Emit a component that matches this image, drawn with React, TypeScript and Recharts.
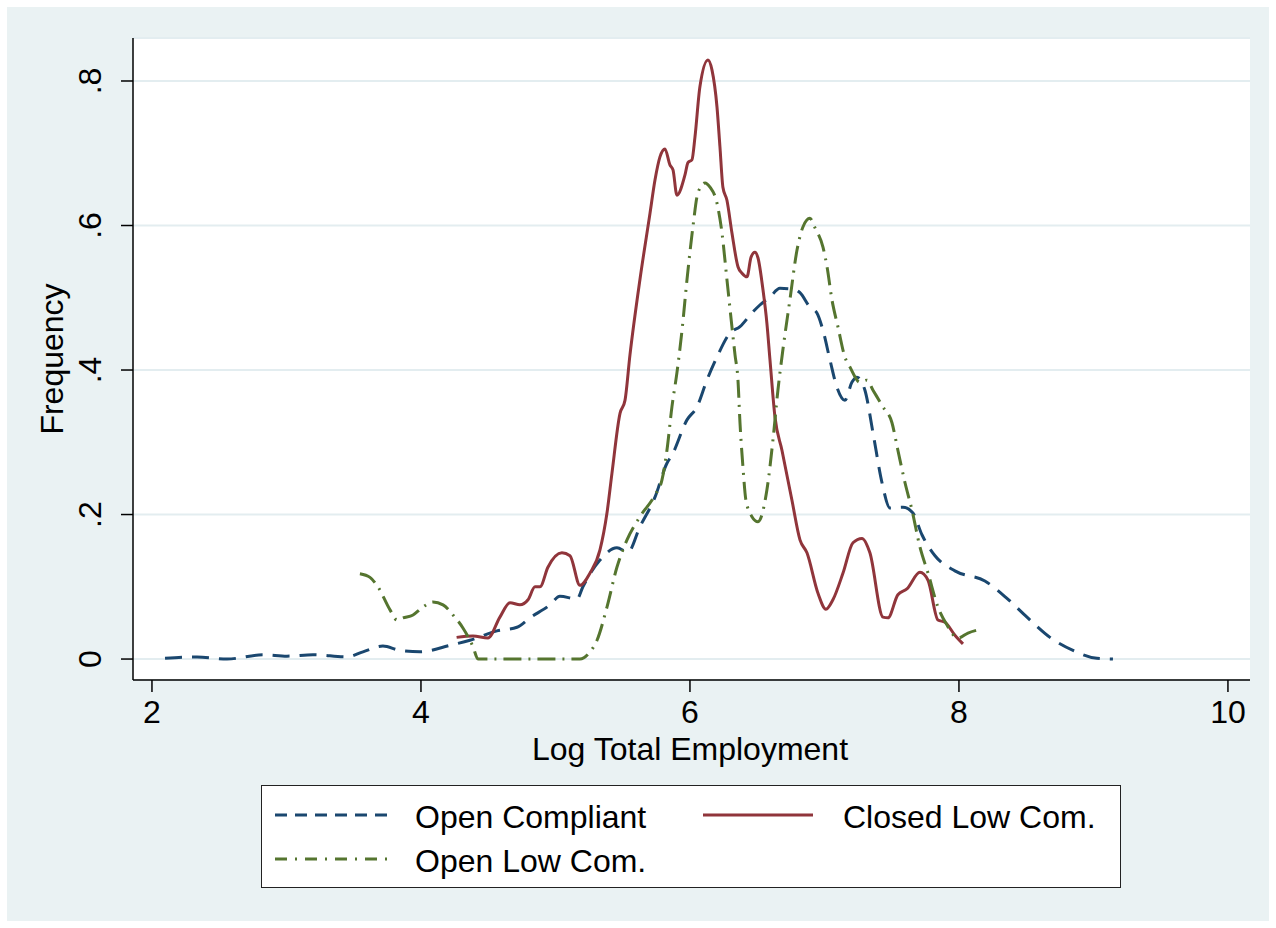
import { LineChart, Line, XAxis, YAxis, CartesianGrid } from "recharts";

// Kernel density estimates of log total employment
const openCompliantX = [
  2.097, 2.335, 2.558, 2.825, 3.004, 3.197, 3.45, 3.569, 3.717, 3.844, 3.993, 4.216, 4.364, 4.565, 4.714, 4.81,
  4.959, 5.033, 5.16, 5.204, 5.331, 5.457, 5.539, 5.628, 5.74, 5.829, 5.866, 5.978, 6.052, 6.126, 6.201, 6.297,
  6.372, 6.461, 6.52, 6.595, 6.669, 6.766, 6.818, 6.892, 6.944, 6.989, 7.041, 7.093, 7.152, 7.204, 7.242, 7.301,
  7.361, 7.428, 7.487, 7.584, 7.658, 7.725, 7.822, 7.97, 8.193, 8.357, 8.506, 8.677, 8.848, 9.026, 9.145,
];
const openCompliantY = [
  0.001, 0.003, 0.0, 0.006, 0.004, 0.006, 0.003, 0.01, 0.018, 0.012, 0.01, 0.019, 0.026, 0.039, 0.044, 0.057,
  0.075, 0.087, 0.083, 0.1, 0.137, 0.154, 0.148, 0.183, 0.224, 0.271, 0.282, 0.331, 0.349, 0.386, 0.418, 0.451,
  0.46, 0.479, 0.49, 0.501, 0.513, 0.512, 0.507, 0.487, 0.479, 0.455, 0.414, 0.376, 0.358, 0.383, 0.39, 0.372,
  0.313, 0.244, 0.209, 0.21, 0.202, 0.172, 0.143, 0.122, 0.108, 0.084, 0.058, 0.03, 0.012, 0.001, 0.0,
];

const closedLowX = [
  4.265, 4.387, 4.498, 4.587, 4.662, 4.736, 4.796, 4.848, 4.885, 4.944, 5.048, 5.108, 5.182, 5.257, 5.331, 5.383,
  5.42, 5.48, 5.517, 5.554, 5.628, 5.703, 5.74, 5.777, 5.814, 5.851, 5.874, 5.903, 5.963, 5.985, 6.015, 6.037,
  6.074, 6.134, 6.164, 6.201, 6.223, 6.245, 6.275, 6.312, 6.357, 6.387, 6.424, 6.454, 6.483, 6.506, 6.543, 6.572,
  6.595, 6.632, 6.684, 6.758, 6.818, 6.87, 6.952, 7.011, 7.063, 7.138, 7.212, 7.279, 7.338, 7.435, 7.472, 7.546,
  7.613, 7.71, 7.77, 7.844, 7.896, 7.97, 8.03,
];
const closedLowY = [
  0.03, 0.032, 0.029, 0.058, 0.078, 0.075, 0.082, 0.1, 0.1, 0.127, 0.147, 0.143, 0.102, 0.119, 0.151, 0.202,
  0.257, 0.34, 0.358, 0.421, 0.525, 0.617, 0.663, 0.695, 0.706, 0.684, 0.677, 0.642, 0.67, 0.687, 0.691, 0.722,
  0.792, 0.829, 0.815, 0.764, 0.709, 0.653, 0.635, 0.59, 0.543, 0.534, 0.529, 0.556, 0.563, 0.555, 0.511, 0.465,
  0.414, 0.335, 0.289, 0.22, 0.165, 0.147, 0.091, 0.069, 0.082, 0.119, 0.161, 0.167, 0.147, 0.058, 0.057, 0.089,
  0.097, 0.12, 0.109, 0.054, 0.051, 0.033, 0.021,
];

const openLowX = [
  3.546, 3.621, 3.68, 3.77, 3.822, 3.866, 3.941, 4.015, 4.089, 4.164, 4.238, 4.312, 4.387, 4.424, 4.587, 4.885,
  5.182, 5.257, 5.309, 5.383, 5.457, 5.532, 5.628, 5.74, 5.792, 5.829, 5.866, 5.903, 5.941, 5.978, 6.022, 6.059,
  6.112, 6.149, 6.201, 6.238, 6.275, 6.312, 6.335, 6.357, 6.372, 6.394, 6.416, 6.461, 6.506, 6.572, 6.617, 6.654,
  6.691, 6.743, 6.796, 6.84, 6.892, 6.929, 6.989, 7.019, 7.056, 7.1, 7.152, 7.19, 7.264, 7.316, 7.361, 7.435,
  7.502, 7.546, 7.599, 7.651, 7.71, 7.77, 7.844, 7.911, 7.993, 8.067, 8.134,
];
const openLowY = [
  0.118, 0.113, 0.1, 0.068, 0.054, 0.057, 0.061, 0.072, 0.079, 0.075, 0.061, 0.043, 0.017, 0.0, 0.0, 0.0,
  0.0, 0.01, 0.026, 0.072, 0.127, 0.165, 0.197, 0.227, 0.248, 0.289, 0.349, 0.396, 0.455, 0.525, 0.598, 0.645,
  0.659, 0.653, 0.631, 0.59, 0.525, 0.46, 0.421, 0.386, 0.327, 0.266, 0.22, 0.197, 0.19, 0.234, 0.303, 0.372,
  0.428, 0.497, 0.566, 0.598, 0.61, 0.597, 0.57, 0.543, 0.497, 0.46, 0.418, 0.404, 0.383, 0.386, 0.372, 0.349,
  0.327, 0.289, 0.244, 0.206, 0.155, 0.119, 0.072, 0.047, 0.029, 0.036, 0.04,
];

const xTicks = [2, 4, 6, 8, 10];
const yTicks = [0, 0.2, 0.4, 0.6, 0.8];

const toPoints = (xs: number[], ys: number[]) => xs.map((x, i) => ({ x, y: ys[i] }));

const FONT = "'Liberation Sans', Arial, sans-serif";
const FS = 32;
const BLUE = "#1a476f";
const RED = "#90353b";
const GREEN = "#55752f";

const fmtY = (v: number) => (v === 0 ? "0" : String(v).replace(/^0/, ""));

const YTick = (props: any) => {
  const { y, payload } = props;
  return (
    <text
      x={94}
      y={y}
      transform={`rotate(-90 94 ${y})`}
      textAnchor="middle"
      fontSize={FS}
      fontFamily={FONT}
      fill="#000"
    >
      {fmtY(payload.value)}
    </text>
  );
};

const XTick = (props: any) => {
  const { x, payload } = props;
  return (
    <text x={x} y={716} textAnchor="middle" fontSize={FS} fontFamily={FONT} fill="#000">
      {payload.value}
    </text>
  );
};

export default function App() {
  const blue = toPoints(openCompliantX, openCompliantY);
  const red = toPoints(closedLowX, closedLowY);
  const green = toPoints(openLowX, openLowY);

  return (
    <div style={{ position: "absolute", left: 0, top: 0, width: 1276, height: 928, background: "#fff" }}>
      <div style={{ position: "absolute", left: 7, top: 7, width: 1262, height: 914, background: "#eaf2f3" }}>
        <LineChart width={1262} height={914} margin={{ top: 31, right: 19, left: 0, bottom: 0 }}>
          <CartesianGrid vertical={false} stroke="#e3edf0" strokeWidth={2} fill="#fff" />
          <XAxis
            dataKey="x"
            type="number"
            domain={[1.859, 10.164]}
            allowDataOverflow
            ticks={xTicks}
            interval={0}
            height={241}
            tickSize={12}
            stroke="#000"
            strokeWidth={1.5}
            tick={<XTick />}
          />
          <YAxis
            type="number"
            domain={[-0.029, 0.8595]}
            allowDataOverflow
            ticks={yTicks}
            interval={0}
            width={126}
            tickSize={12}
            stroke="#000"
            strokeWidth={1.5}
            tick={<YTick />}
          />
          <Line
            data={blue}
            dataKey="y"
            type="monotone"
            stroke={BLUE}
            strokeWidth={3}
            strokeDasharray="17 10"
            dot={false}
            isAnimationActive={false}
          />
          <Line
            data={red}
            dataKey="y"
            type="monotone"
            stroke={RED}
            strokeWidth={3}
            dot={false}
            isAnimationActive={false}
          />
          <Line
            data={green}
            dataKey="y"
            type="monotone"
            stroke={GREEN}
            strokeWidth={3}
            strokeDasharray="18 7 2 7"
            dot={false}
            isAnimationActive={false}
          />
        </LineChart>

        <svg
          width={1262}
          height={914}
          style={{ position: "absolute", left: 0, top: 0, pointerEvents: "none" }}
        >
          <text
            x={56}
            y={352}
            transform="rotate(-90 56 352)"
            textAnchor="middle"
            fontSize={FS}
            fontFamily={FONT}
            fill="#000"
          >
            Frequency
          </text>
          <text x={683} y={753} textAnchor="middle" fontSize={FS} fontFamily={FONT} fill="#000">
            Log Total Employment
          </text>
        </svg>

        <div
          style={{
            position: "absolute",
            left: 254,
            top: 778,
            width: 860,
            height: 103,
            boxSizing: "border-box",
            border: "1.5px solid #222",
            background: "#fff",
          }}
        >
          <svg width={857} height={100} style={{ position: "absolute", left: 0, top: 0 }}>
            <line x1={13} y1={29} x2={133} y2={29} stroke={BLUE} strokeWidth={3} strokeDasharray="12 8" />
            <text x={153} y={42} fontSize={FS} fontFamily={FONT} fill="#000">
              Open Compliant
            </text>
            <line x1={441} y1={29} x2={551} y2={29} stroke={RED} strokeWidth={3} />
            <text x={581} y={42} fontSize={FS} fontFamily={FONT} fill="#000">
              Closed Low Com.
            </text>
            <line x1={13} y1={73} x2={133} y2={73} stroke={GREEN} strokeWidth={3} strokeDasharray="12 8 2 8" />
            <text x={153} y={86} fontSize={FS} fontFamily={FONT} fill="#000">
              Open Low Com.
            </text>
          </svg>
        </div>
      </div>
    </div>
  );
}
